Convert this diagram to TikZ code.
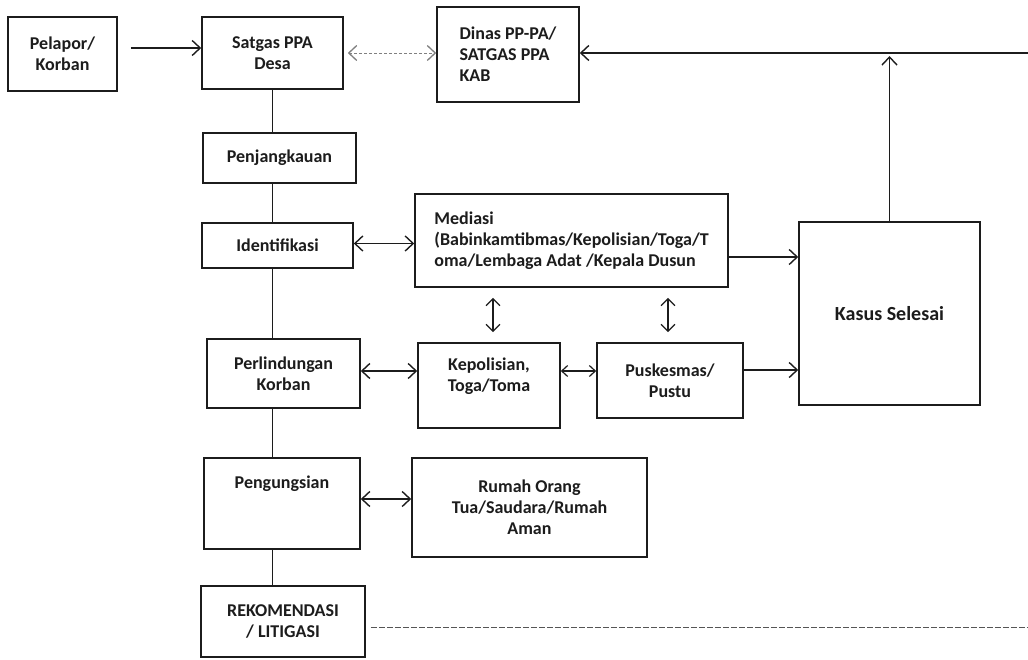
\documentclass[tikz,border=0pt]{standalone}
\usepackage{fontspec}
\setmainfont{Carlito}
\usetikzlibrary{arrows.meta}
\definecolor{ink}{RGB}{28,28,28}
\begin{document}
\begin{tikzpicture}[x=1pt,y=-1pt,
  bx/.style={draw=ink, line width=1.6pt, fill=white, inner sep=0pt, align=center,
    text=ink, font=\fontsize{18}{21}\selectfont\bfseries},
  lbx/.style={bx, align=left},
  line/.style={draw=ink, line width=1.5pt},
  arr/.style={line, -{Straight Barb[length=8pt,width=15pt,line width=1.4pt]}},
  dbl/.style={line, {Straight Barb[length=8pt,width=15pt,line width=1.4pt]}-{Straight Barb[length=8pt,width=15pt,line width=1.4pt]}},
  vdbl/.style={line, line width=1.3pt, {Straight Barb[length=7pt,width=14pt,line width=1.3pt]}-{Straight Barb[length=7pt,width=14pt,line width=1.3pt]}},
  sdbl/.style={line, line width=1.2pt, {Straight Barb[length=6pt,width=11pt,line width=1.2pt]}-{Straight Barb[length=6pt,width=11pt,line width=1.2pt]}},
  ddbl/.style={draw=gray, line width=0.9pt, dash pattern=on 3pt off 2pt,
    {Straight Barb[length=8pt,width=15pt,line width=1.3pt]}-{Straight Barb[length=8pt,width=15pt,line width=1.3pt]}},
  dline/.style={draw=ink!75, line width=0.9pt, dash pattern=on 6pt off 2pt}
]
\useasboundingbox[fill=white] (0,0) rectangle (1028,659);

% boxes
\node[bx, minimum width=109pt, minimum height=74pt] (pel) at (62.5,54) {Pelapor/\\Korban};
\node[bx, minimum width=141pt, minimum height=72pt] (sat) at (272.5,53) {Satgas PPA\\Desa};
\node[lbx, minimum width=142pt, minimum height=95pt] (din) at (508,54.5) {Dinas PP-PA/\\SATGAS PPA\\KAB};
\node[bx, minimum width=153pt, minimum height=50pt] (pen) at (279.5,158) {Penjangkauan};
\node[bx, minimum width=151pt, minimum height=45pt] (idn) at (277.5,245.5) {Identifikasi};
\node[lbx, minimum width=313pt, minimum height=93pt] (med) at (571.5,240.5) {Mediasi\\(Babinkamtibmas/Kepolisian/Toga/T\\oma/Lembaga Adat /Kepala Dusun};
\node[bx, minimum width=153pt, minimum height=69pt] (prl) at (283.5,373.5) {Perlindungan\\Korban};
\node[bx, minimum width=142pt, minimum height=85pt] (kep) at (489,385.5) {Kepolisian,\\Toga/Toma\\\mbox{}};
\node[bx, minimum width=146pt, minimum height=75pt] (pus) at (670,380.5) {Puskesmas/\\Pustu};
\node[bx, minimum width=181pt, minimum height=183pt, font=\fontsize{20}{24}\selectfont\bfseries] (kas) at (889.5,313.5) {Kasus Selesai};
\node[bx, minimum width=156pt, minimum height=91pt] (png) at (282,503.5) {Pengungsian\\\mbox{}\\\mbox{}};
\node[bx, minimum width=235pt, minimum height=99pt] (rum) at (529.5,507.5) {Rumah Orang\\Tua/Saudara/Rumah\\Aman};
\node[bx, minimum width=164pt, minimum height=71pt] (rek) at (283,621.5) {REKOMENDASI\\/ LITIGASI};

% free ends at the picture edge
\coordinate (tr) at (1028,53);
\coordinate (br) at (1028,627);

% spine
\foreach \a/\b in {sat/pen,pen/idn,idn/prl,prl/png,png/rek}
  \draw[line] (\a.south -| sat.south) -- (\b.north -| sat.south);

% connectors
\draw[arr, shorten <=13pt] ([yshift=6pt]pel.east) -- ([yshift=6pt]pel.east -| sat.west);
\draw[ddbl, shorten <=4pt] (sat.east) -- (sat.east -| din.west);
\draw[arr] (tr) -- (tr -| din.east);
\draw[arr, shorten >=3pt] (kas.north) -- (kas.north |- tr);
\draw[dbl] ([yshift=2pt]idn.east) -- ([yshift=2pt]idn.east -| med.west);
\draw[arr] ([yshift=-16.5pt]med.east) -- ([yshift=-16.5pt]med.east -| kas.west);
\draw[vdbl, shorten <=10pt, shorten >=10pt] ([xshift=4pt]kep.north |- med.south) -- ([xshift=4pt]kep.north);
\draw[vdbl, shorten <=10pt, shorten >=10pt] ([xshift=-2pt]pus.north |- med.south) -- ([xshift=-2pt]pus.north);
\draw[dbl] ([yshift=2.5pt]prl.east) -- ([yshift=2.5pt]prl.east -| kep.west);
\draw[sdbl] ([yshift=2.5pt]prl.east -| kep.east) -- ([yshift=2.5pt]prl.east -| pus.west);
\draw[arr] ([yshift=10.5pt]pus.east) -- ([yshift=10.5pt]pus.east -| kas.west);
\draw[dbl] ([yshift=4.5pt]png.east) -- ([yshift=4.5pt]png.east -| rum.west);
\draw[dline, shorten <=5pt] (br -| rek.east) -- (br);
\end{tikzpicture}
\end{document}
